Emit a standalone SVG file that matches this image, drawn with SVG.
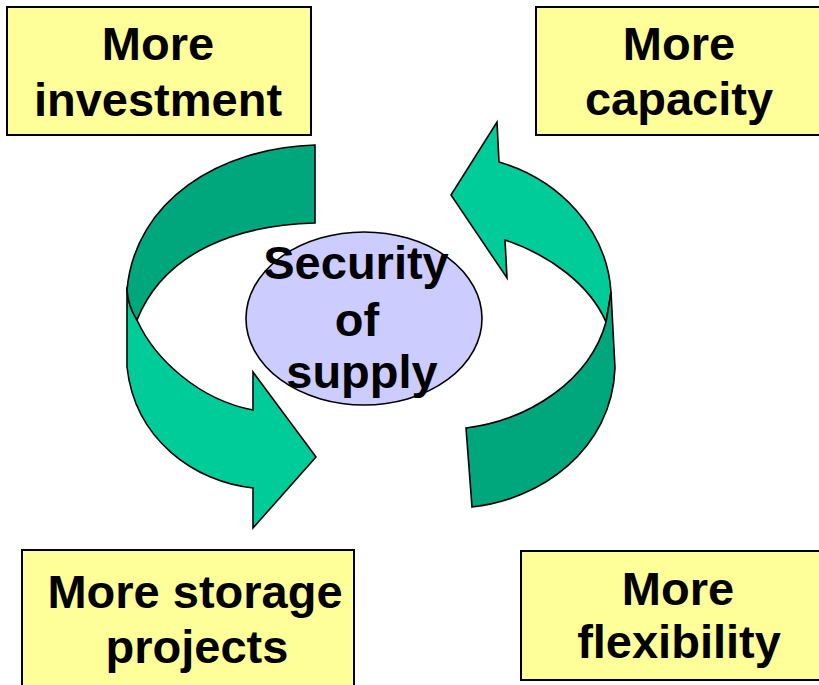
<svg xmlns="http://www.w3.org/2000/svg" width="819" height="685" viewBox="0 0 819 685">
<style>
.box{fill:#FFFF99;stroke:#000;stroke-width:2}
.t{font-family:"Liberation Sans",Arial,sans-serif;font-weight:bold;font-size:47px;fill:#000;text-anchor:middle}
.lt{fill:#00CC99;stroke:#000;stroke-width:1.6;stroke-linejoin:miter}
.dk{fill:#00A67C;stroke:#000;stroke-width:1.6;stroke-linejoin:miter}
</style>
<rect width="819" height="685" fill="#fff"/>
<g id="connectors">
<g id="arrow-left">
<path class="lt" d="M127,287 L127,367 C135,440 195,482 253,488 L253,528 L316,457 L253,372 L253,410 C200,400 155,360 137,320 Q128,306 127,287 Z"/>
<path class="dk" d="M315,145 C220,148 135,200 127,290 Q128,306 137,320 C165,250 240,225 315,223 Z"/>
</g>
<g id="arrow-right">
<path class="lt" d="M499,162 L497,122 L451,195 L507,278 L505,240 C550,255 590,285 606,322 Q609,305 611,292 C607,230 560,180 499,162 Z"/>
<path class="dk" d="M611,292 L615,368 C612,450 540,500 472,507 L466,428 C530,420 590,380 606,322 Q609,305 611,292 Z"/>
</g>
</g>
<g id="node-investment">
<rect class="box" x="7" y="7" width="304" height="128"/>
<text class="t" x="158" y="60">More</text>
<text class="t" x="158" y="116">investment</text>
</g>
<g id="node-capacity">
<rect class="box" x="536" y="7" width="300" height="128"/>
<text class="t" x="679" y="60">More</text>
<text class="t" x="679" y="115">capacity</text>
</g>
<g id="node-storage">
<rect class="box" x="22" y="550" width="332" height="150"/>
<text class="t" x="195" y="608">More storage</text>
<text class="t" x="197" y="663">projects</text>
</g>
<g id="node-flexibility">
<rect class="box" x="521" y="551" width="310" height="129"/>
<text class="t" x="678" y="605">More</text>
<text class="t" x="679" y="658">flexibility</text>
</g>
<g id="node-security">
<ellipse cx="364" cy="318.5" rx="118" ry="86.5" fill="#CCCCFF" stroke="#000" stroke-width="1.6"/>
<text class="t" x="356" y="279">Security</text>
<text class="t" x="357" y="336">of</text>
<text class="t" x="362" y="388">supply</text>
</g>
</svg>
